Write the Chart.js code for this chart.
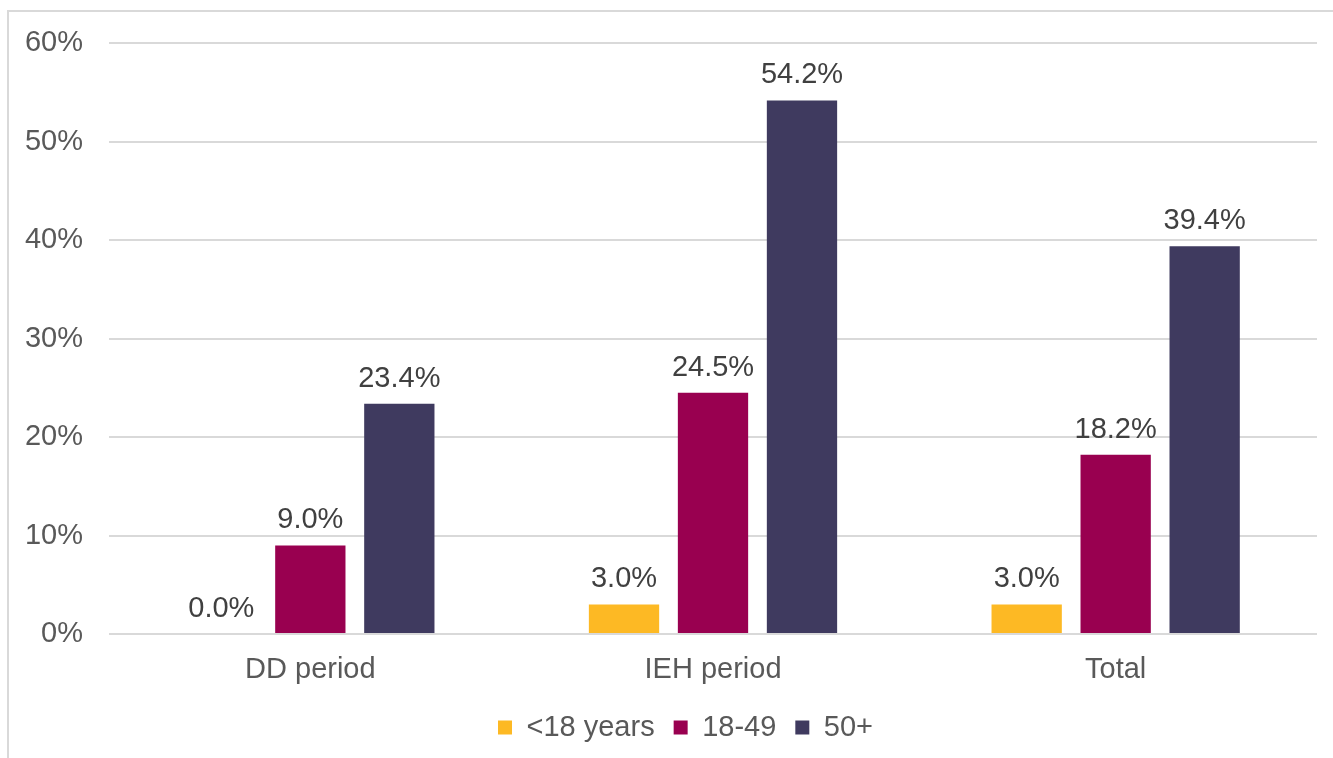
<!DOCTYPE html>
<html>
<head>
<meta charset="utf-8">
<script src="https://cdn.jsdelivr.net/npm/chart.js@4.4.0/dist/chart.umd.min.js"></script>
<style>
  html, body { margin: 0; padding: 0; background: #fff; overflow: hidden; }
  #frame {
    position: absolute; left: 7px; top: 10px; width: 1400px; height: 800px;
    border-left: 2px solid #d9d9d9; border-top: 2px solid #d9d9d9;
  }
  #wrap { position: absolute; left: 0; top: 0; width: 1333px; height: 758px; }
</style>
</head>
<body>
<div id="frame"></div>
<div id="wrap"><canvas id="ageChart"></canvas></div>
<script>
//data
const periods = ["DD period", "IEH period", "Total"];
const under18 = [0.0, 3.0, 3.0];
const age18to49 = [9.0, 24.5, 18.2];
const age50plus = [23.4, 54.2, 39.4];
const yTicks = [0, 10, 20, 30, 40, 50, 60];

const FONT = "Arial, 'Liberation Sans', sans-serif";

//labels above bars
const barLabels = {
  id: "barLabels",
  afterDatasetsDraw(chart) {
    const ctx = chart.ctx;
    ctx.save();
    ctx.font = "29px " + FONT;
    ctx.fillStyle = "#404040";
    ctx.textAlign = "center";
    ctx.textBaseline = "alphabetic";
    chart.data.datasets.forEach((ds, i) => {
      chart.getDatasetMeta(i).data.forEach((bar, j) => {
        ctx.fillText(ds.data[j].toFixed(1) + "%", bar.x, bar.y - 17);
      });
    });
    ctx.restore();
  },
};

//nudge legend a bit right, like the original
const legendShift = {
  id: "legendShift",
  afterLayout(chart) {
    chart.legend.left += 27;
    chart.legend.right += 27;
  },
};

const data = {
  labels: periods,
  datasets: [
    { label: "<18 years", data: under18, backgroundColor: "#FDB924" },
    { label: "18-49", data: age18to49, backgroundColor: "#990050" },
    { label: "50+", data: age50plus, backgroundColor: "#3F3A5F" },
  ],
};

const config = {
  type: "bar",
  data: data,
  options: {
    responsive: false,
    animation: false,
    layout: { padding: { left: 0, right: 16, top: 42, bottom: 6 } },
    datasets: { bar: { categoryPercentage: 0.663, barPercentage: 0.79 } },
    plugins: {
      legend: {
        position: "bottom",
        labels: {
          boxWidth: 14,
          boxHeight: 14,
          padding: 19,
          color: "#595959",
          font: { family: FONT, size: 29 },
        },
      },
      tooltip: { enabled: false },
    },
    scales: {
      x: {
        grid: { display: false },
        border: { display: false },
        afterFit: (scale) => {
          scale.height = 60;
        },
        ticks: { color: "#595959", font: { family: FONT, size: 29 }, padding: 11 },
      },
      y: {
        min: 0,
        max: 60,
        afterBuildTicks: (scale) => {
          scale.ticks = yTicks.map((v) => ({ value: v }));
        },
        afterFit: (scale) => {
          scale.width = 109;
        },
        grid: { color: "#d9d9d9", lineWidth: 2, drawTicks: false },
        border: { display: false },
        ticks: {
          color: "#595959",
          font: { family: FONT, size: 29 },
          padding: 26,
          callback: (v) => v + "%",
        },
      },
    },
  },
  plugins: [barLabels, legendShift],
};

const canvas = document.getElementById("ageChart");
canvas.width = 1333;
canvas.height = 758;
const myChart = new Chart(canvas, config);
</script>
</body>
</html>
